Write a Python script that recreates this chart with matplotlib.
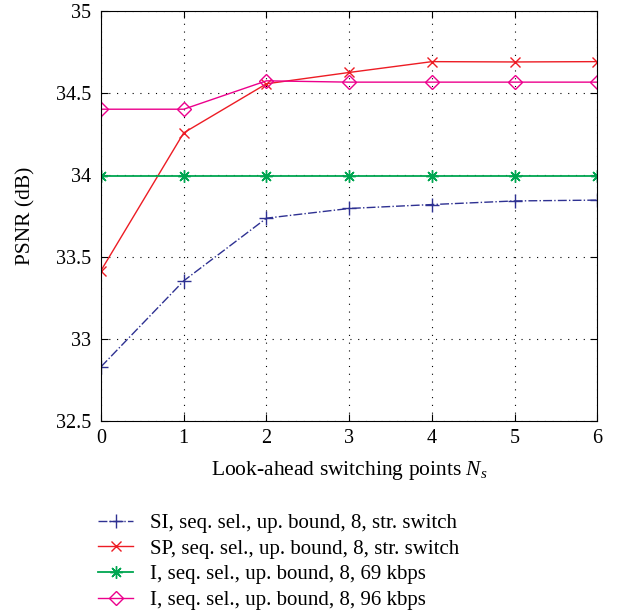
import matplotlib
matplotlib.use("Agg")
import matplotlib.pyplot as plt

plt.rcParams['font.family'] = ['Liberation Serif', 'DejaVu Serif']
plt.rcParams['mathtext.fontset'] = 'custom'
plt.rcParams['mathtext.it'] = 'Liberation Serif:italic'
plt.rcParams['mathtext.rm'] = 'Liberation Serif'

x = [0, 1, 2, 3, 4, 5, 6]
si_sp = [32.83, 33.354, 33.736, 33.795, 33.819, 33.841, 33.846]
sp_sp = [33.416, 34.256, 34.555, 34.624, 34.69, 34.688, 34.69]
i_69 = [33.996, 33.996, 33.996, 33.996, 33.996, 33.996, 33.996]
i_96 = [34.40, 34.40, 34.573, 34.565, 34.565, 34.565, 34.565]
labels = ["SI, seq. sel., up. bound, 8, str. switch",
          "SP, seq. sel., up. bound, 8, str. switch",
          "I, seq. sel., up. bound, 8, 69 kbps",
          "I, seq. sel., up. bound, 8, 96 kbps"]

fig = plt.figure(figsize=(6.39, 6.15), dpi=100)
ax = fig.add_axes([0.158, 0.3155, 0.777, 0.667])

ax.plot(x, si_sp, color='#2e3192', ls='-.', lw=1, marker='+', ms=10, mew=1, label=labels[0])
ax.plot(x, sp_sp, color='#ed1c24', ls='-', lw=1, marker='x', ms=7, mew=1, label=labels[1])
ax.plot(x, i_69, color='#00a651', ls='-', lw=1.3, marker=(8, 2, 0), ms=9, mew=1, label=labels[2])
ax.plot(x, i_96, color='#ec008c', ls='-', lw=1, marker='D', ms=7, mew=1, mfc='none', label=labels[3])

ax.set_xlim(0, 6)
ax.set_ylim(32.5, 35)
ax.set_xticks(x)
ax.set_yticks([32.5, 33, 33.5, 34, 34.5, 35])
ax.set_yticklabels(['32.5', '33', '33.5', '34', '34.5', '35'])
ax.grid(True, color='black', ls=(0, (1, 6)), lw=0.8)
ax.tick_params(direction='in', top=True, right=True, labelsize=14.5, length=5)
ax.tick_params(axis='y', pad=7)
ax.tick_params(axis='x', pad=6)
for s in ax.spines.values():
    s.set_linewidth(0.8)

ax.set_xlabel(r'Look-ahead switching points $N_s$', fontsize=15.5, labelpad=8)
ax.set_ylabel('PSNR (dB)', fontsize=15.5, labelpad=15)

fig.legend(loc='upper left', bbox_to_anchor=(0.14, 0.179), frameon=False,
           fontsize=15, handlelength=1.7, handletextpad=0.8, labelspacing=0.3,
           borderaxespad=0)

fig.savefig('out.png', dpi=100)
